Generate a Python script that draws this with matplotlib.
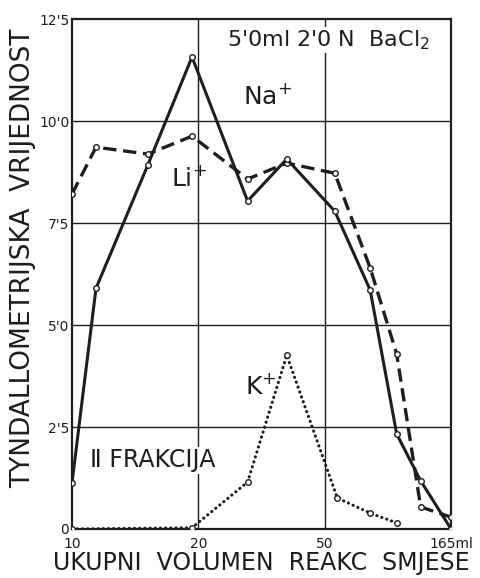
import matplotlib.pyplot as plt

# x is read in grid units: 0 -> 10, 1 -> 20, 2 -> 50, 3 -> 165 ml
x_ticks = [0, 1, 2, 3]
x_tick_labels = ["10", "20", "50", "165ml"]
y_ticks = [0, 2.5, 5.0, 7.5, 10.0, 12.5]
y_tick_labels = ["0", "2'5", "5'0", "7'5", "10'0", "12'5"]

na_x = [0, 0.19, 0.60, 0.95, 1.39, 1.70, 2.08, 2.36, 2.57, 2.76, 3.0]
na_y = [1.13, 5.9, 8.92, 11.57, 8.04, 9.07, 7.79, 5.86, 2.33, 1.18, 0.0]

li_x = [0, 0.19, 0.60, 0.95, 1.39, 1.70, 2.08, 2.36, 2.57, 2.76, 3.0]
li_y = [8.21, 9.36, 9.19, 9.63, 8.58, 8.97, 8.72, 6.4, 4.29, 0.54, 0.29]

k_x = [0, 0.95, 1.39, 1.70, 2.10, 2.36, 2.57]
k_y = [0.0, 0.03, 1.15, 4.26, 0.76, 0.39, 0.15]

ink = "#1e1e1e"

fig = plt.figure(figsize=(4.8, 5.78), dpi=100)
ax = fig.add_axes([0.15, 0.0848, 0.7896, 0.8822])

ax.set_xlim(0, 3)
ax.set_ylim(0, 12.5)

for v in [1, 2]:
    ax.axvline(v, color=ink, lw=1.0, zorder=1)
for h in [2.5, 5.0, 7.5, 10.0]:
    ax.axhline(h, color=ink, lw=1.0, zorder=1)

mk = dict(marker="o", markersize=4, markerfacecolor="white",
          markeredgecolor=ink, markeredgewidth=1.0)

ax.plot(na_x, na_y, color=ink, lw=2.2, ls="-", zorder=4, **mk)
ax.plot(li_x, li_y, color=ink, lw=2.4, ls=(0, (4, 2)), zorder=3, **mk)
ax.plot(k_x, k_y, color=ink, lw=2.2, ls=(0, (0.1, 1.6)),
        dash_capstyle="round", zorder=3, **mk)

ax.set_xticks(x_ticks)
ax.set_xticklabels(x_tick_labels)
ax.set_yticks(y_ticks)
ax.set_yticklabels(y_tick_labels)
ax.tick_params(axis="x", length=0, labelsize=10, pad=6, colors=ink)
ax.tick_params(axis="y", length=0, labelsize=10, pad=2, colors=ink)
for s in ax.spines.values():
    s.set_linewidth(1.6)
    s.set_color(ink)

ax.set_ylabel("TYNDALLOMETRIJSKA  VRIJEDNOST", fontsize=19, color=ink,
              fontweight="medium")
ax.yaxis.set_label_coords(-0.095, 0.53)
ax.set_xlabel("UKUPNI  VOLUMEN  REAKC  SMJESE", fontsize=17, color=ink, labelpad=0)

box = dict(facecolor="white", edgecolor="none", pad=1)
ax.text(2.83, 11.98, "5'0ml 2'0 N  BaCl$_2$", fontsize=16, ha="right", va="center",
        color=ink, bbox=box, zorder=5)
ax.text(1.35, 10.6, "Na$^{+}$", fontsize=18, ha="left", va="center", color=ink, zorder=5)
ax.text(0.78, 8.6, "Li$^{+}$", fontsize=18, ha="left", va="center", color=ink, zorder=5)
ax.text(1.37, 3.5, "K$^{+}$", fontsize=18, ha="left", va="center", color=ink, zorder=5)
ax.text(0.14, 1.68, "\u2161 FRAKCIJA", fontsize=17, ha="left", va="center", color=ink,
        bbox=box, zorder=5)

fig.savefig("out.png", dpi=100)
